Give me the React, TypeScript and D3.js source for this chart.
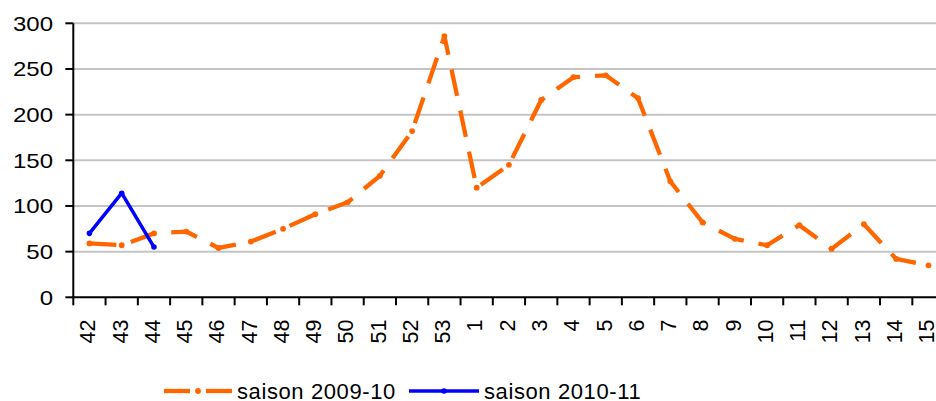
import React from "react";
import * as d3 from "d3";

const categories = ["42","43","44","45","46","47","48","49","50","51","52","53","1","2","3","4","5","6","7","8","9","10","11","12","13","14","15"];
const season0910 = [59,57,70,72,54,61,75,91,104,133,182,286,120,145,216,241,243,218,127,82,64,57,79,53,80,42,35];
const season1011 = [70,114,55];
const yTicks = [0,50,100,150,200,250,300];
const seriesNames = ["saison 2009-10","saison 2010-11"];
const seriesColors = ["#FF6600","#0000FF"];

const W = 936, H = 401;
const left = 73.3, bottom = 297.3, top = 23.3;
const bandW = 32.27;

export default function App() {
  const x = d3.scaleBand<string>().domain(categories).range([left, left + bandW * categories.length]).paddingInner(0).paddingOuter(0);
  const y = d3.scaleLinear().domain([0, 300]).range([bottom, top]);
  const cx = (c: string) => (x(c) as number) + x.bandwidth() / 2;
  const line = d3.line<[string, number]>().x(d => cx(d[0])).y(d => y(d[1]));
  const d0 = categories.map((c, i) => [c, season0910[i]] as [string, number]);
  const d1 = season1011.map((v, i) => [categories[i], v] as [string, number]);
  const font = "'Liberation Sans', Arial, sans-serif";
  const ticksX = d3.range(categories.length + 1).map(i => left + i * bandW);
  return (
    <svg width={W} height={H} style={{ position: "absolute", left: 0, top: 0, background: "#fff" }} fontFamily={font}>
      {yTicks.filter(t => t > 0).map(t => (
        <line key={"g" + t} x1={left} x2={W} y1={y(t)} y2={y(t)} stroke="#c4c4c4" strokeWidth={2} />
      ))}
      {yTicks.map(t => (
        <g key={"yt" + t}>
          <line x1={left - 8} x2={left} y1={y(t)} y2={y(t)} stroke="#000" strokeWidth={2} />
          <text transform={`translate(53,${y(t)}) scale(1.2,1)`} textAnchor="end" dy="0.36em" fontSize={20} fill="#000">{t}</text>
        </g>
      ))}
      <line x1={left} x2={left} y1={top} y2={bottom} stroke="#000" strokeWidth={2} />
      <line x1={left} x2={W} y1={bottom} y2={bottom} stroke="#000" strokeWidth={2} />
      {ticksX.map((tx, i) => (
        <line key={"xt" + i} x1={tx} x2={tx} y1={bottom} y2={bottom + 8} stroke="#000" strokeWidth={2} />
      ))}
      {categories.map(c => (
        <text key={"xl" + c} transform={`translate(${cx(c)},319.5) rotate(-90)`} textAnchor="end" dy="0.27em" fontSize={21.5} fill="#000">{c}</text>
      ))}
      <path d={line(d0) || ""} fill="none" stroke={seriesColors[0]} strokeWidth={4.3} strokeDasharray="27 15" strokeLinejoin="round" />
      {d0.map(d => <circle key={"m0" + d[0]} cx={cx(d[0])} cy={y(d[1])} r={2.9} fill={seriesColors[0]} />)}
      <path d={line(d1) || ""} fill="none" stroke={seriesColors[1]} strokeWidth={3.5} strokeLinejoin="round" />
      {d1.map(d => <circle key={"m1" + d[0]} cx={cx(d[0])} cy={y(d[1])} r={2.8} fill={seriesColors[1]} />)}
      <g>
        <line x1={164} x2={190} y1={391} y2={391} stroke={seriesColors[0]} strokeWidth={4.3} />
        <line x1={206} x2={232} y1={391} y2={391} stroke={seriesColors[0]} strokeWidth={4.3} />
        <circle cx={198} cy={391} r={2.9} fill={seriesColors[0]} />
        <text x={237} y={391} dy="0.36em" fontSize={22} letterSpacing={0.6} fill="#000">{seriesNames[0]}</text>
        <line x1={409} x2={479} y1={391} y2={391} stroke={seriesColors[1]} strokeWidth={3.5} />
        <circle cx={444} cy={391} r={2.8} fill={seriesColors[1]} />
        <text x={484} y={391} dy="0.36em" fontSize={22} letterSpacing={0.6} fill="#000">{seriesNames[1]}</text>
      </g>
    </svg>
  );
}
